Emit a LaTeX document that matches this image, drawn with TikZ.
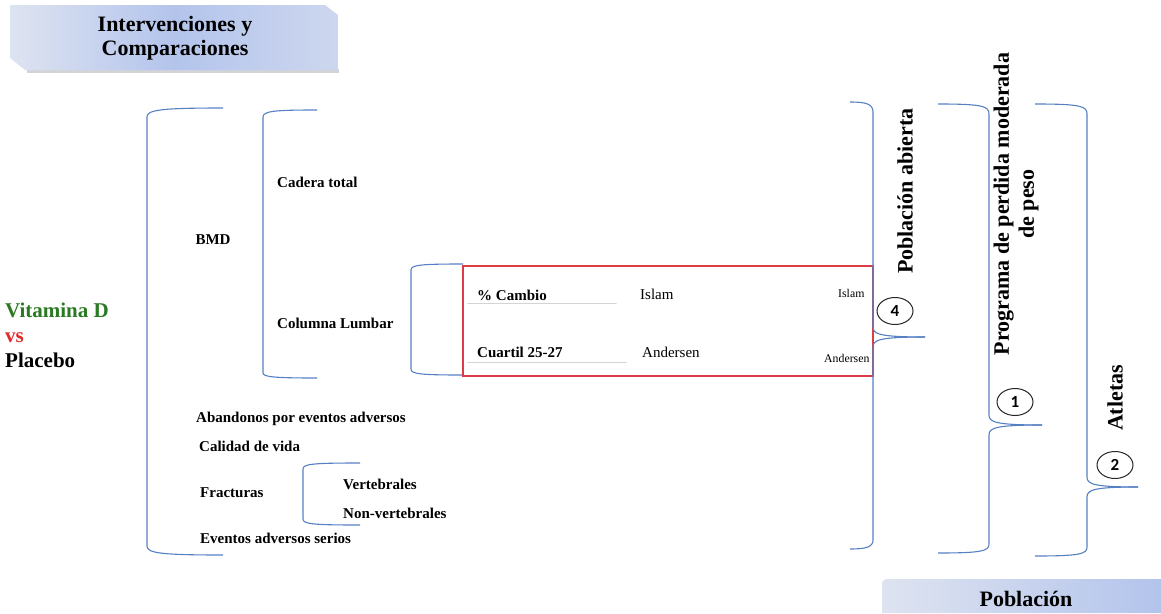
\documentclass[tikz,border=0pt]{standalone}
\usepackage{fontspec}
\setmainfont{Liberation Serif}
\newfontfamily\digitfont{Carlito}
\usetikzlibrary{shapes.geometric}
\definecolor{lineblue}{HTML}{5680C4}
\definecolor{boxred}{HTML}{DC3C46}
\definecolor{vitgreen}{HTML}{2A7A22}
\definecolor{vsred}{HTML}{E02A2A}
\definecolor{hdrlight}{HTML}{DEE3F0}
\definecolor{hdrblue}{HTML}{B3C4EC}
\definecolor{shadowgrey}{HTML}{D2D4D8}
\begin{document}
\begin{tikzpicture}[x=1pt,y=-1pt,
  brk/.style={draw=lineblue, line width=1.1pt},
  lbl/.style={font=\bfseries\fontsize{15}{18}\selectfont, inner sep=0pt, anchor=west},
  cite/.style={font=\fontsize{15}{18}\selectfont, inner sep=0pt, anchor=west},
  citesmall/.style={font=\fontsize{11.8}{14}\selectfont, inner sep=0pt, anchor=west},
  title/.style={font=\bfseries\fontsize{22}{24}\selectfont, align=center, inner sep=0pt},
  vtitle/.style={font=\bfseries\fontsize{22}{25}\selectfont, align=center, inner sep=0pt, rotate=90},
  num/.style={ellipse, draw=black!85, line width=1pt, minimum width=36pt, minimum height=27pt,
    inner sep=0pt, font=\digitfont\bfseries\fontsize{17}{17}\selectfont},
  tagshadow/.style={draw=shadowgrey, line width=1.8pt, line cap=round}
]
\useasboundingbox (0,0) rectangle (1161,613);

% heading boxes
\fill[shadowgrey] (27,69) -- (339,69) -- (339,73) -- (27,73) -- cycle;
\shade[left color=hdrlight, right color=hdrlight!60!hdrblue, middle color=hdrblue]
  (10,5) -- (325,5) -- (338,15) -- (338,70) -- (25,70) -- (10,58) -- cycle;
\node[title] (hdr) at (175,38) {Intervenciones y\\Comparaciones};

\shade[left color=hdrlight, right color=hdrblue]
  (888,579) -- (1161,579) -- (1161,613) -- (882,613) -- (882,585) .. controls (882,581) and (884,579) .. (888,579) -- cycle;
\node[title] (pob) at (1026,599) {Población};

% comparison
\node[font=\bfseries\fontsize{21}{25}\selectfont, align=left, inner sep=0pt, anchor=west] (comp) at (5,335)
  {\textcolor{vitgreen}{Vitamina D}\\\textcolor{vsred}{vs}\\Placebo};

% outcome brackets
\draw[brk] (223,108) .. controls (160,108) and (147,110) .. (147,117) -- (147,546) .. controls (147,553) and (160,555) .. (223,555);
\draw[brk] (317,110) .. controls (275,110) and (263,111) .. (263,117) -- (263,373) .. controls (263,377) and (275,378) .. (317,378);
\draw[brk] (463,264) .. controls (420,264) and (411,265) .. (411,270) -- (411,369) .. controls (411,374) and (420,375) .. (463,375);
\draw[brk] (360,463) .. controls (312,463) and (303,464) .. (303,469) -- (303,519) .. controls (303,524) and (312,525) .. (360,525);

% outcomes
\node[lbl, anchor=center] (bmd) at (213,240) {BMD};
\node[lbl] (cad) at (277,182) {Cadera total};
\node[lbl] (lum) at (277,323) {Columna Lumbar};
\node[lbl] (aba) at (196,419) {Abandonos por eventos adversos};
\node[lbl] (cal) at (199,446) {Calidad de vida};
\node[lbl] (fra) at (200,493) {Fracturas};
\node[lbl] (ver) at (343,484) {Vertebrales};
\node[lbl] (nver) at (343,513) {Non-vertebrales};
\node[lbl] (eas) at (200,538) {Eventos adversos serios};

% lumbar spine detail
\draw[boxred, line width=1.3pt] (463,266) rectangle (873,376);
\node[lbl] (pc) at (477,295) {\% Cambio};
\draw[tagshadow] ([shift={(-9,3)}]pc.south west) -- ++(148,0);
\node[lbl] (cu) at (477,352) {Cuartil 25-27};
\draw[tagshadow] ([shift={(-9,5)}]cu.south west) -- ++(158,0);
\node[cite] (isl1) at (640,294) {Islam};
\node[cite] (and1) at (642,352) {Andersen};
\node[citesmall] (isl2) at (838,293) {Islam};
\node[citesmall] (and2) at (824,358) {Andersen};

% population braces
\draw[brk] (850,102) .. controls (866,102) and (873,104) .. (873,112) -- (873,327) .. controls (873,334) and (879,337) .. (925,337);
\draw[brk] (925,337) .. controls (879,337) and (873,340) .. (873,347) -- (873,540) .. controls (873,547) and (866,549) .. (850,549);
\draw[brk] (938,104) .. controls (982,104) and (989,106) .. (989,114) -- (989,415) .. controls (989,422) and (995,425) .. (1042,425);
\draw[brk] (1042,425) .. controls (995,425) and (989,428) .. (989,435) -- (989,544) .. controls (989,551) and (982,553) .. (938,553);
\draw[brk] (1035,104) .. controls (1080,104) and (1087,106) .. (1087,114) -- (1087,477) .. controls (1087,484) and (1093,487) .. (1138,487);
\draw[brk] (1138,487) .. controls (1093,487) and (1087,490) .. (1087,497) -- (1087,547) .. controls (1087,554) and (1080,556) .. (1035,556);

% populations
\node[vtitle] (pa) at (905,191) {Población abierta};
\node[vtitle] (pp) at (1016,204) {Programa de perdida moderada\\de peso};
\node[vtitle] (at) at (1115,398) {Atletas};

% study counts
\node[num] (n4) at (895,311) {4};
\node[num] (n1) at (1015,402) {1};
\node[num] (n2) at (1115,465) {2};
\end{tikzpicture}
\end{document}
